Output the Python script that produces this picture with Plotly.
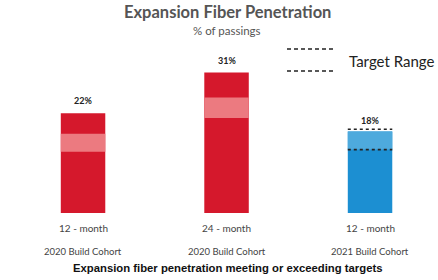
import plotly.graph_objects as go

# ---- data ----
periods = ["12 - month", "24 - month", "12 - month"]
cohorts = ["2020 Build Cohort", "2020 Build Cohort", "2021 Build Cohort"]
penetration = [22, 31, 18]
target_low = [13.5, 21, 14]
target_high = [17.5, 25.5, 18.5]
value_labels = ["22%", "31%", "18%"]

bar_colors = ["#d5182c", "#d5182c", "#1c8fd2"]
band_colors = ["#ec7a80", "#ec7a80", "#4eaadd"]

xs = list(range(len(penetration)))
W = 0.31

fig = go.Figure()
fig.add_trace(go.Bar(x=xs, y=penetration, width=W, marker=dict(color=bar_colors, line=dict(width=0)),
                     showlegend=False, hoverinfo="skip"))
band_top = [min(h, p) for h, p in zip(target_high, penetration)]
fig.add_trace(go.Bar(x=xs, y=[t - l for t, l in zip(band_top, target_low)], base=target_low, width=W,
                     marker=dict(color=band_colors, line=dict(width=0)), showlegend=False, hoverinfo="skip"))

# dashed target lines on the 2021 cohort bar
i = 2
for yv in (target_low[i], target_high[i]):
    fig.add_trace(go.Scatter(x=[i - W / 2, i + W / 2], y=[yv, yv], mode="lines",
                             line=dict(color="#222222", width=1.6, dash="3px,3px"),
                             showlegend=False, hoverinfo="skip"))

# value labels
for x, v, lab in zip(xs, penetration, value_labels):
    yv = max(v, target_high[x]) if x == 2 else v
    fig.add_annotation(x=x, y=yv, text="<b>" + lab + "</b>",
                       showarrow=False, yanchor="bottom", yshift=1 if x == 2 else 5,
                       font=dict(family="Lato", size=9, color="#222222"))

# category labels
for x, p, c in zip(xs, periods, cohorts):
    fig.add_annotation(x=x, y=0, yref="y", text=p, showarrow=False, yanchor="middle", yshift=-15,
                       font=dict(family="Lato", size=10, color="#444444"))
    fig.add_annotation(x=x, y=0, yref="y", text=c, showarrow=False, yanchor="middle", yshift=-38,
                       font=dict(family="Lato", size=9.5, color="#444444"))

# title/subtitle/footer
cx = (227 - 10) / 418
fig.add_annotation(xref="paper", yref="paper", x=cx, y=(213 - 12) / 173,
                   text="<b>Expansion Fiber Penetration</b>", showarrow=False, yanchor="middle",
                   font=dict(family="Lato", size=16.5, color="#555555"))
fig.add_annotation(xref="paper", yref="paper", x=cx, y=(213 - 31) / 173,
                   text="% of passings", showarrow=False, yanchor="middle",
                   font=dict(family="Lato", size=11.5, color="#555555"))
fig.add_annotation(xref="paper", yref="paper", x=cx, y=(213 - 268) / 173,
                   text="<b>Expansion fiber penetration meeting or exceeding targets</b>", showarrow=False,
                   yanchor="middle", font=dict(family="Arial, Liberation Sans", size=11.3, color="#111111"))

# legend
for py in (49, 71):
    fig.add_shape(type="line", xref="paper", yref="paper", x0=(287 - 10) / 418, x1=(336 - 10) / 418,
                  y0=(213 - py) / 173, y1=(213 - py) / 173,
                  line=dict(color="#222222", width=1.6, dash="4px,3px"))
fig.add_annotation(xref="paper", yref="paper", x=(347 - 10) / 418, y=(213 - 61) / 173, xanchor="left",
                   text="Target Range", showarrow=False, yanchor="middle",
                   font=dict(family="Lato", size=15, color="#222222"))

fig.update_layout(
    width=438, height=280,
    margin=dict(l=10, r=10, t=40, b=67),
    paper_bgcolor="white", plot_bgcolor="white",
    barmode="overlay",
    xaxis=dict(range=[-0.509, 2.404], visible=False, fixedrange=True),
    yaxis=dict(range=[0, 38.2], visible=False, fixedrange=True),
)

fig.write_html("out.html", config={"displayModeBar": False},
               post_script="document.body.style.margin='0';document.body.style.overflow='hidden';")
